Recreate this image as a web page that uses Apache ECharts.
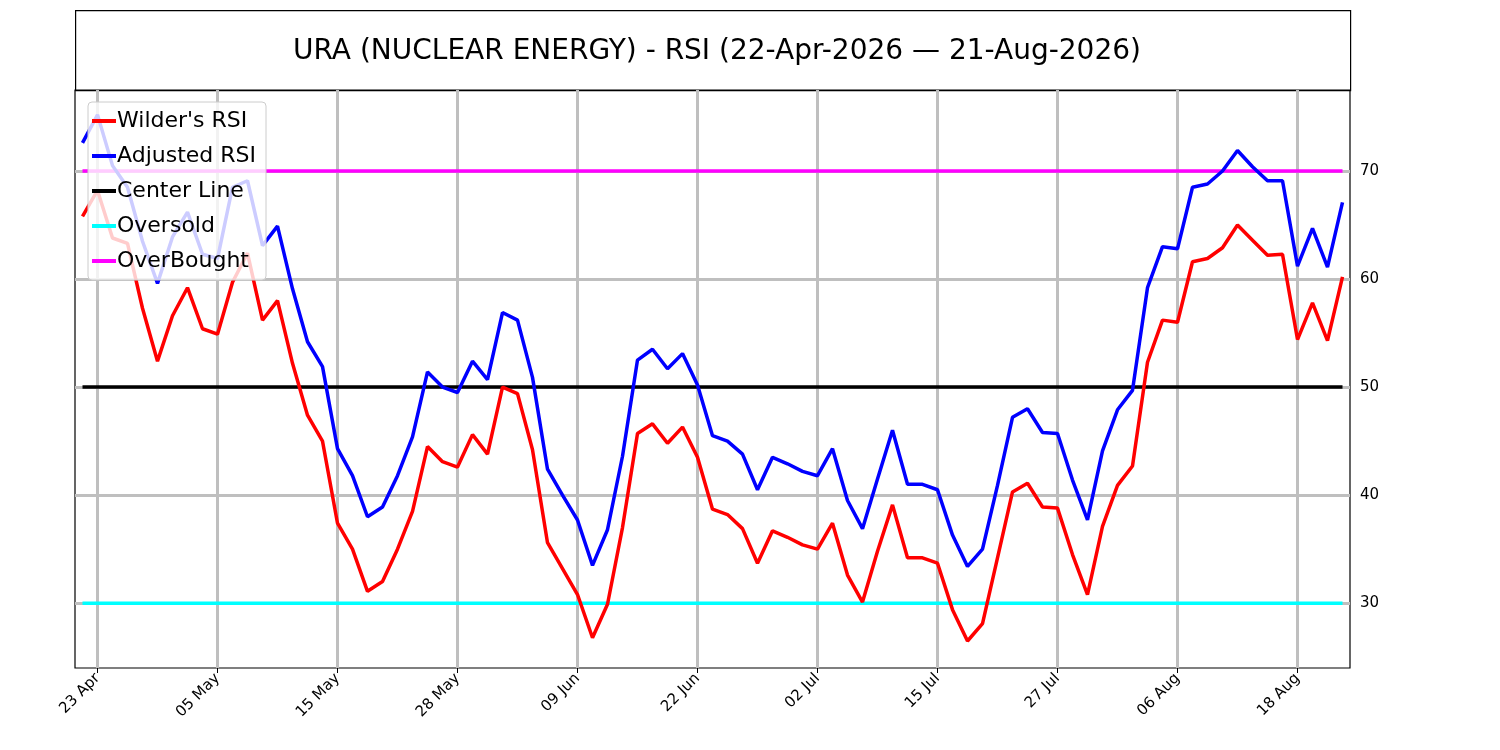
<!DOCTYPE html>
<html lang="en">
<head>
  <meta charset="UTF-8">
  <title>URA RSI</title>
  <script src="https://cdn.jsdelivr.net/npm/echarts@6/dist/echarts.min.js"></script>
</head>
<body style="margin:0">
  <div id="main" style="width:1500px;height:750px"></div>
  <script type="text/javascript">
    // trading-day index -> tick label
    var tickIdx = [1, 9, 17, 25, 33, 41, 49, 57, 65, 73, 81];
    var tickLabels = ['23 Apr', '05 May', '15 May', '28 May', '09 Jun', '22 Jun', '02 Jul', '15 Jul', '27 Jul', '06 Aug', '18 Aug'];
    var yTicks = [30, 40, 50, 60, 70];

    var wilder = [65.8, 68.2, 63.8, 63.3, 57.3, 52.4, 56.6, 59.2, 55.4, 54.9,
      59.7, 62.4, 56.2, 58.0, 52.2, 47.4, 45.0, 37.4, 35.0, 31.1,
      32.0, 35.0, 38.5, 44.5, 43.1, 42.6, 45.6, 43.8, 50.0, 49.4,
      44.2, 35.6, 33.2, 30.8, 26.8, 29.9, 37.0, 45.7, 46.6, 44.8,
      46.3, 43.5, 38.7, 38.2, 36.9, 33.7, 36.7, 36.1, 35.4, 35.0,
      37.4, 32.6, 30.1, 34.8, 39.1, 34.2, 34.2, 33.7, 29.4, 26.5,
      28.1, 34.2, 40.3, 41.1, 38.9, 38.8, 34.5, 30.8, 37.1, 40.9,
      42.7, 52.3, 56.2, 56.0, 61.6, 61.9, 62.9, 65.0, 63.6, 62.2,
      62.3, 54.4, 57.8, 54.3, 60.2];
    var adjusted = [72.6, 75.2, 70.5, 68.5, 63.5, 59.6, 63.9, 66.2, 62.3, 61.9,
      68.5, 69.1, 63.1, 64.9, 59.1, 54.2, 51.9, 44.3, 41.8, 38.0,
      38.9, 41.8, 45.4, 51.4, 50.0, 49.5, 52.4, 50.7, 56.9, 56.2,
      50.9, 42.4, 40.0, 37.7, 33.5, 36.8, 43.6, 52.5, 53.5, 51.7,
      53.1, 50.2, 45.5, 45.0, 43.8, 40.5, 43.5, 42.9, 42.2, 41.8,
      44.3, 39.5, 36.9, 41.5, 46.0, 41.0, 41.0, 40.5, 36.3, 33.4,
      35.0, 40.9, 47.2, 48.0, 45.8, 45.7, 41.4, 37.7, 44.1, 47.9,
      49.7, 59.2, 63.0, 62.8, 68.5, 68.8, 70.0, 71.9, 70.4, 69.1,
      69.1, 61.2, 64.7, 61.1, 67.1];
    var center = 50, oversold = 30, overbought = 70;

    function pairs(arr) { return arr.map(function (v, i) { return [i, v]; }); }
    function flat(v) { return [[0, v], [wilder.length - 1, v]]; }

    var gridLines = {
      silent: true, symbol: 'none', label: { show: false }, z: 1,
      lineStyle: { color: '#bfbfbf', width: 3, type: 'solid' },
      data: tickIdx.map(function (x) { return { xAxis: x }; })
        .concat(yTicks.map(function (y) { return { yAxis: y }; }))
    };

    var myChart = echarts.init(document.getElementById('main'));
    var option = {
      animation: false,
      textStyle: { fontFamily: 'DejaVu Sans' },
      graphic: [{
        type: 'rect', left: 75, top: 10, z: -1,
        shape: { width: 1275, height: 80 },
        style: { fill: '#fff', stroke: '#000', lineWidth: 1.2 }
      }],
      title: {
        text: 'URA (NUCLEAR ENERGY) - RSI (22-Apr-2026 \u2014 21-Aug-2026)',
        left: 712, top: 33, textAlign: 'center',
        textStyle: { fontSize: 28, fontWeight: 'normal', color: '#000' }
      },
      legend: {
        orient: 'vertical', left: 88, top: 102, z: 20,
        padding: [8, 10, 8, 4],
        backgroundColor: 'rgba(255,255,255,0.8)',
        borderColor: '#ccc', borderWidth: 1, borderRadius: 4,
        itemWidth: 24, itemHeight: 4, itemGap: 13,
        icon: 'rect',
        textStyle: { fontSize: 22, color: '#000', padding: [0, 0, 0, -4] },
        data: ["Wilder's RSI", 'Adjusted RSI', 'Center Line', 'Oversold', 'OverBought']
      },
      grid: { left: 75, right: 150, top: 90, bottom: 82, show: true, borderColor: '#000', borderWidth: 1.2 },
      xAxis: {
        type: 'value', min: -0.5, max: 84.5,
        splitLine: { show: false },
        axisLine: { show: false },
        axisTick: { show: true, customValues: tickIdx, length: 5, lineStyle: { color: '#000' } },
        axisLabel: {
          customValues: tickIdx, rotate: 45, fontSize: 15, color: '#000',
          formatter: function (v) { return tickLabels[tickIdx.indexOf(v)] || ''; }
        }
      },
      yAxis: {
        type: 'value', min: 24, max: 77.5, position: 'right',
        splitLine: { show: false },
        axisLine: { show: false },
        axisTick: { show: true, customValues: yTicks, length: 5, lineStyle: { color: '#000' } },
        axisLabel: { customValues: yTicks, fontSize: 15, color: '#000', margin: 10 }
      },
      series: [
        { name: 'grid', type: 'line', data: [], markLine: gridLines, z: 1 },
        { name: 'Center Line', type: 'line', data: flat(center), showSymbol: false, color: '#000000', lineStyle: { width: 3.5 }, z: 5 },
        { name: 'Oversold', type: 'line', data: flat(oversold), showSymbol: false, color: '#00ffff', lineStyle: { width: 3.5 }, z: 5 },
        { name: 'OverBought', type: 'line', data: flat(overbought), showSymbol: false, color: '#ff00ff', lineStyle: { width: 3.5 }, z: 5 },
        { name: "Wilder's RSI", type: 'line', data: pairs(wilder), showSymbol: false, color: '#ff0000', lineStyle: { width: 3.5 }, z: 6 },
        { name: 'Adjusted RSI', type: 'line', data: pairs(adjusted), showSymbol: false, color: '#0000ff', lineStyle: { width: 3.5 }, z: 6 }
      ]
    };
    myChart.setOption(option);
  </script>
</body>
</html>
